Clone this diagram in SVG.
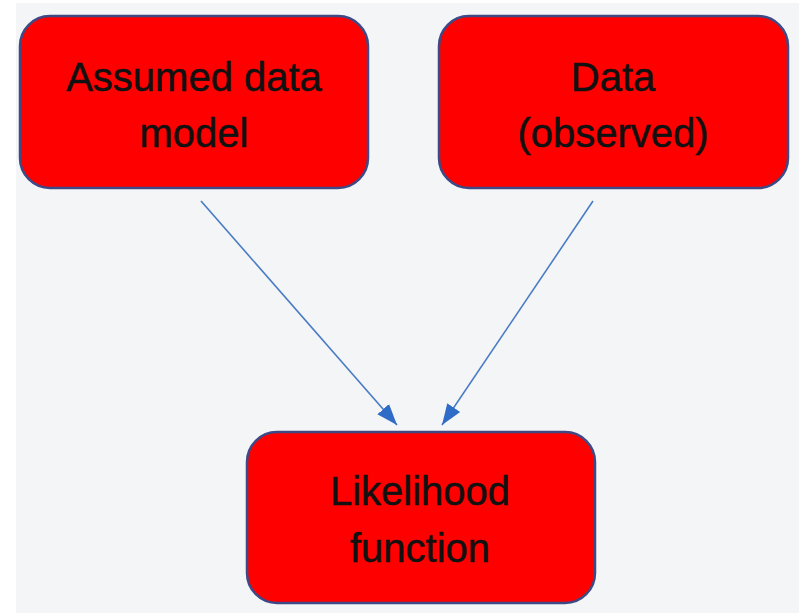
<svg xmlns="http://www.w3.org/2000/svg" width="799" height="613" viewBox="0 0 799 613">
<style>
.box{fill:#ff0000;stroke:#3d4a86;stroke-width:2.5}
.lbl{font-family:"Liberation Sans",Arial,sans-serif;font-size:40px;fill:#111;stroke:#111;stroke-width:0.5;text-anchor:middle}
.conn{stroke:#4a7cc4;stroke-width:1.6;fill:none}
</style>
<defs>
<marker id="ah" viewBox="0 0 10 10" refX="10" refY="5" markerWidth="21" markerHeight="21" markerUnits="userSpaceOnUse" orient="auto">
<path d="M0,1.3 L10,5 L0,8.7 z" fill="#2f6cc8"/>
</marker>
</defs>
<rect x="0" y="0" width="799" height="613" fill="#ffffff"/>
<rect x="16" y="3" width="783" height="610" fill="#f4f5f6"/>
<g id="node-model">
<rect class="box" x="20" y="16" width="348" height="172" rx="30"/>
<text class="lbl" x="194" y="91">Assumed data</text>
<text class="lbl" x="194" y="147">model</text>
</g>
<g id="node-data">
<rect class="box" x="439" y="16" width="349" height="172" rx="30"/>
<text class="lbl" x="613" y="91">Data</text>
<text class="lbl" x="613" y="147">(observed)</text>
</g>
<g id="node-likelihood">
<rect class="box" x="247" y="432" width="348" height="171" rx="30"/>
<text class="lbl" x="420" y="505">Likelihood</text>
<text class="lbl" x="420" y="562">function</text>
</g>
<g id="connectors">
<line class="conn" x1="201" y1="201" x2="397" y2="425" marker-end="url(#ah)"/>
<line class="conn" x1="593" y1="201" x2="442" y2="425" marker-end="url(#ah)"/>
</g>
</svg>
